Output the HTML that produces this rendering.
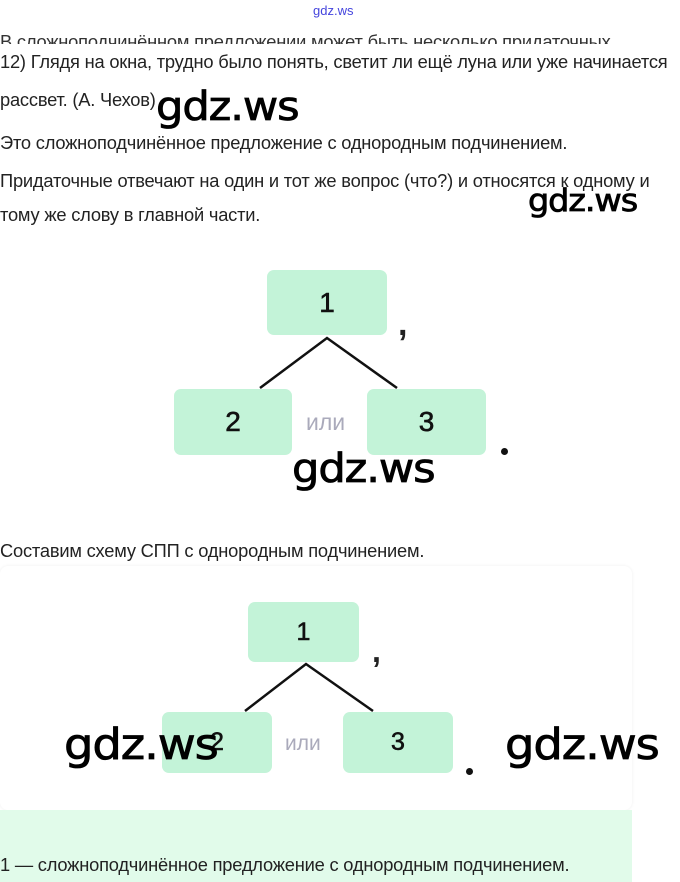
<!DOCTYPE html>
<html><head><meta charset="utf-8"><style>
body{margin:0;width:680px;height:882px;background:#fff;position:relative;overflow:hidden;font-family:"Liberation Sans",sans-serif;color:#222}
.t{position:absolute;left:0;font-size:18.3px;white-space:nowrap;letter-spacing:-0.2px}
.w{position:absolute;font-family:"DejaVu Sans","Liberation Sans",sans-serif;color:#000;white-space:nowrap;letter-spacing:-1px;-webkit-text-stroke:0.8px #000;transform:scaleX(1.08);transform-origin:left}
.b{position:absolute;background:#c3f3d8;border-radius:7px;display:flex;align-items:center;justify-content:center;font-size:28px;color:#111;-webkit-text-stroke:0.6px #111}
.g{position:absolute;color:#aab;font-size:23px}
</style></head><body>
<div style="position:absolute;left:313px;top:3px;font-size:13px;color:#4444dd">gdz.ws</div>
<div class="t" style="top:31px;height:13px;overflow:hidden;color:#333">В сложноподчинённом предложении может быть несколько придаточных</div>
<div class="t" style="top:51px">12) Глядя на окна, трудно было понять, светит ли ещё луна или уже начинается</div>
<div class="t" style="top:89px">рассвет. (А. Чехов)</div>
<div class="t" style="top:132px">Это сложноподчинённое предложение с однородным подчинением.</div>
<div class="t" style="top:170px">Придаточные отвечают на один и тот же вопрос (что?) и относятся к одному и</div>
<div class="t" style="top:204px">тому же слову в главной части.</div>

<div class="b" style="left:267px;top:270px;width:120px;height:65px">1</div>
<div class="b" style="left:174px;top:389px;width:118px;height:66px">2</div>
<div class="b" style="left:367px;top:389px;width:119px;height:66px">3</div>
<div class="g" style="left:306px;top:409px">или</div>
<div style="position:absolute;left:398px;top:305px;font-size:34px;font-weight:bold">,</div>
<div style="position:absolute;left:501px;top:448px;width:7px;height:7px;border-radius:4px;background:#111"></div>

<div class="t" style="top:540px">Составим схему СПП с однородным подчинением.</div>
<div style="position:absolute;left:0;top:566px;width:632px;height:244px;background:#fff;border-radius:8px;box-shadow:0 0 3px #eee"></div>
<div style="position:absolute;left:0;top:810px;width:632px;height:72px;background:#e1fbea"></div>
<div class="b" style="left:248px;top:602px;width:111px;height:60px;font-size:25px">1</div>
<div class="b" style="left:162px;top:712px;width:110px;height:61px;font-size:25px">2</div>
<div class="b" style="left:343px;top:712px;width:110px;height:61px;font-size:25px">3</div>
<div class="g" style="left:285px;top:732px;font-size:21px">или</div>
<div style="position:absolute;left:372px;top:633px;font-size:32px;font-weight:bold">,</div>
<div style="position:absolute;left:466px;top:768px;width:7px;height:7px;border-radius:4px;background:#111"></div>
<div class="t" style="top:854px">1 — сложноподчинённое предложение с однородным подчинением.</div>

<svg style="position:absolute;left:0;top:0" width="680" height="882">
<g stroke="#111" stroke-width="2.5" fill="none">
<polyline points="260,388 327,338 397,388"/>
<polyline points="245,711 306,664 373,711"/>
</g></svg>

<div class="w" style="left:156px;top:84px;font-size:40px">gdz.ws</div>
<div class="w" style="left:528px;top:183px;font-size:31px">gdz.ws</div>
<div class="w" style="left:292px;top:446px;font-size:40px">gdz.ws</div>
<div class="w" style="left:64px;top:720px;font-size:43px">gdz.ws</div>
<div class="w" style="left:505px;top:720px;font-size:43px">gdz.ws</div>
</body></html>
